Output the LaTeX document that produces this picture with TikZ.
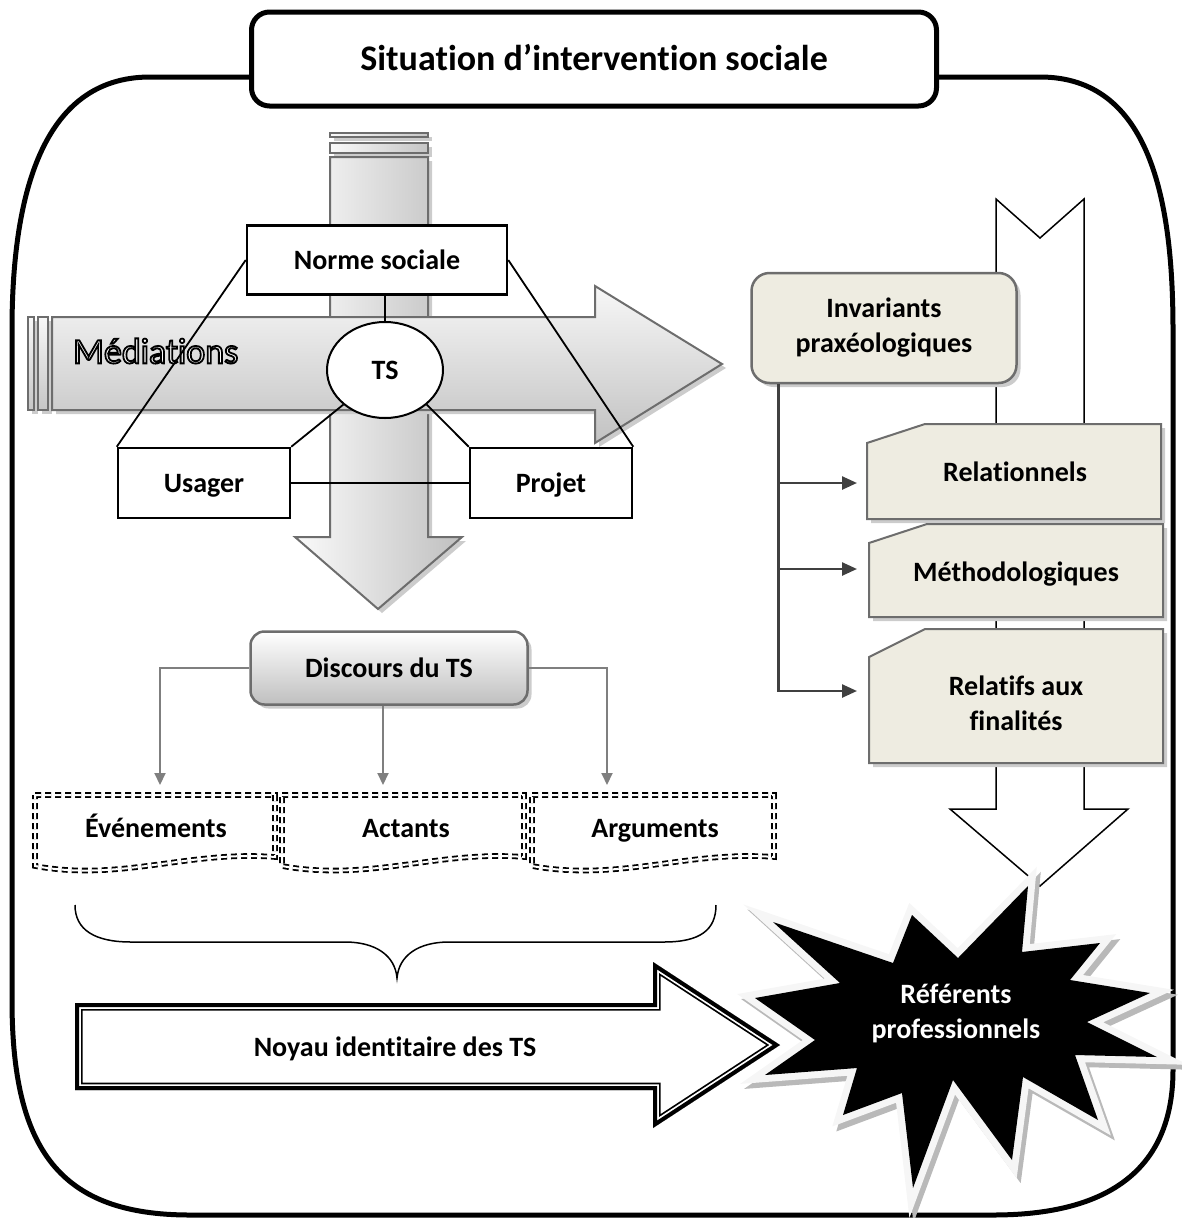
\documentclass[tikz,border=0pt]{standalone}
\usepackage{fontspec}
\setmainfont{Carlito}[Ligatures=NoCommon]
\usetikzlibrary{arrows.meta,shapes.geometric,shadows,calc}
\definecolor{beige}{HTML}{EEECE1}
\definecolor{edgegray}{HTML}{6D6D6D}
\definecolor{linkgray}{HTML}{7F7F7F}
\definecolor{darklink}{HTML}{404040}
% hollow lettering: white fill with a thin black stroke
\newcommand{\hollowtext}[1]{\special{pdf:literal direct 2 Tr 1.8 w 0 G}#1\special{pdf:literal direct 0 Tr}}

\begin{document}
\begin{tikzpicture}[x=1pt,y=-1pt,
  lbl/.style={font=\bfseries\fontsize{28}{35}\selectfont, align=center, inner sep=0pt},
  one/.style={text height=22pt, text depth=4pt},
  plainbox/.style={lbl, one, draw=black, line width=2.5pt, fill=white},
  tie/.style={draw=black, line width=1.8pt},
  softshadow/.style={drop shadow={shadow xshift=4pt, shadow yshift=-4pt, fill=gray!40, opacity=1}},
  garrow/.style={draw=edgegray, line width=2pt, softshadow},
  link/.style={draw=linkgray, line width=2pt, -{Triangle[length=12pt,width=11pt]}},
  branch/.style={draw=darklink, line width=2.5pt, -{Triangle[length=15pt,width=13pt]}},
  docbox/.style={draw=black, line width=1.8pt, double=white, double distance=2pt, dash pattern=on 6pt off 4pt},
  tabbox/.style={draw=edgegray, line width=2pt, fill=beige, softshadow},
  noyau/.style={insert path={(75,1003) -- (653,1003) -- (653,962) -- (780,1045) -- (653,1128) -- (653,1090) -- (75,1090) -- cycle}},
  starpath/.style={insert path={(1028,886) -- (1022,952) -- (1100,943) -- (1070,980) -- (1150,993) -- (1087,1022) -- (1157,1057) -- (1075,1055) -- (1098,1120) -- (1023,1077) -- (1012,1160) -- (953,1080) -- (913,1188) -- (902,1093) -- (843,1115) -- (857,1068) -- (765,1075) -- (815,1040) -- (755,998) -- (840,983) -- (773,922) -- (893,963) -- (912,915) -- (958,958) -- cycle}}
]
\useasboundingbox (0,0) rectangle (1181,1218);

% outer frame of the situation
\draw[line width=5pt] (300,77) -- (150,77) .. controls (40,77) and (12,200) .. (12,330)
  -- (12,1000) .. controls (12,1150) and (60,1215) .. (190,1215)
  -- (993,1215) .. controls (1120,1215) and (1173,1160) .. (1173,1070)
  -- (1173,330) .. controls (1173,200) and (1150,77) .. (1040,77) -- cycle;

% notched vertical arrow behind the invariants
\draw[line width=1.5pt, fill=white] (996,199) -- (1040,238) -- (1084,199) -- (1084,809)
  -- (1128,809) -- (1040,886) -- (950,809) -- (996,809) -- cycle;

% vertical grey arrow
\shadedraw[garrow, line width=1.6pt, left color=gray!4, right color=gray!45] (330,133) rectangle (428,137);
\shadedraw[garrow, left color=gray!4, right color=gray!45] (330,143) rectangle (428,153);
\shadedraw[garrow, left color=gray!4, right color=gray!50] (330,157) -- (428,157) -- (428,537)
  -- (462,537) -- (378,609) -- (295,537) -- (330,537) -- cycle;

% horizontal grey arrow
\shadedraw[garrow, top color=gray!6, bottom color=gray!45] (28,317) rectangle (34,410);
\shadedraw[garrow, top color=gray!6, bottom color=gray!45] (38,317) rectangle (48,410);
\shadedraw[garrow, top color=gray!6, bottom color=gray!48] (52,317) -- (595,317) -- (595,286)
  -- (722,364) -- (595,443) -- (595,410) -- (52,410) -- cycle;

% hollow label of the horizontal arrow
\node[font=\fontsize{36}{40}\selectfont, text=white, anchor=west, inner sep=0pt]
  (mediations) at (73,351) {\hollowtext{Médiations}};

% triangle of actors
\node[plainbox, minimum width=260pt, minimum height=69pt] (norme) at (377,260) {Norme sociale};
\node[plainbox, ellipse, line width=2pt, minimum width=116pt, minimum height=96pt] (ts) at (385,370) {TS};
\node[plainbox, minimum width=172pt, minimum height=70pt] (usager) at (204,483) {Usager};
\node[plainbox, minimum width=162pt, minimum height=70pt] (projet) at (551,483) {Projet};

\draw[tie] (norme.south -| ts.north) -- (ts.north);
\draw[tie] (norme.west) -- (usager.north west);
\draw[tie] (norme.east) -- (projet.north east);
\draw[tie] (ts.south west) -- (usager.north east);
\draw[tie] (ts.south east) -- (projet.north west);
\draw[tie] (usager.east) -- (projet.west);

% discourse and its three components
\node[lbl, one, draw=edgegray, line width=2.5pt, rounded corners=14pt, top color=white, bottom color=gray!50,
  minimum width=277pt, minimum height=73pt, softshadow] (disc) at (389,668) {Discours du TS};

\draw[docbox] (35,795) -- (275,795) -- (275,857) .. controls (190,850) and (120,882) .. (35,866) -- cycle;
\draw[docbox] (282,795) -- (524,795) -- (524,857) .. controls (439,850) and (369,882) .. (282,866) -- cycle;
\draw[docbox] (532,795) -- (774,795) -- (774,857) .. controls (689,850) and (619,882) .. (532,866) -- cycle;
\node[lbl, one] (ev) at (156,828) {Événements};
\node[lbl, one] (ac) at (406,828) {Actants};
\node[lbl, one] (ar) at (655,828) {Arguments};

\coordinate (evin) at (160,785);
\coordinate (acin) at (383,785);
\coordinate (arin) at (607,785);
\draw[link] (disc.west) -| (evin);
\draw[link] (disc.south -| acin) -- (acin);
\draw[link] (disc.east) -| (arin);

% brace gathering the components
\draw[line width=1.5pt] (75,905) .. controls (75,930) and (95,942) .. (131,942) -- (345,942)
  .. controls (375,942) and (395,955) .. (397,978) .. controls (399,955) and (419,942) .. (449,942)
  -- (664,942) .. controls (700,942) and (716,930) .. (716,905);

% identity core arrow with a double outline
\fill[white, noyau];
\begin{scope}
  \clip[noyau];
  \draw[line width=15pt, noyau];
  \draw[white, line width=11.5pt, noyau];
  \draw[line width=8pt, noyau];
\end{scope}
\node[lbl, one] (noyautxt) at (395,1047) {Noyau identitaire des TS};

% praxeological invariants
\node[lbl, draw=edgegray, line width=2.5pt, rounded corners=18pt, fill=beige,
  minimum width=265pt, minimum height=110pt, softshadow] (inv) at (884,328) {Invariants\\praxéologiques};

\draw[tabbox] (867,443) -- (925,424) -- (1161,424) -- (1161,519) -- (867,519) -- cycle;
\draw[tabbox] (869,543) -- (927,524) -- (1163,524) -- (1163,617) -- (869,617) -- cycle;
\draw[tabbox] (869,657) -- (925,629) -- (1163,629) -- (1163,763) -- (869,763) -- cycle;
\node[lbl, one] (rel) at (1015,472) {Relationnels};
\node[lbl, one] (met) at (1016,572) {Méthodologiques};
\node[lbl] (fin) at (1016,703) {Relatifs aux\\finalités};

\coordinate (relin) at (857,483);
\coordinate (metin) at (857,569);
\coordinate (finin) at (857,691);
\draw[branch] ($(inv.south west)+(28,0)$) |- (relin);
\draw[branch] ($(inv.south west)+(28,0)$) |- (metin);
\draw[branch] ($(inv.south west)+(28,0)$) |- (finin);

% professional references burst
\draw[gray!55, line width=14pt, shift={(4,5)}, starpath];
\draw[gray!7, line width=14pt, starpath];
\fill[black, starpath];
\node[lbl, text=white] (refs) at (956,1013) {Référents\\professionnels};

% title
\node[lbl, one, font=\bfseries\fontsize{36}{42}\selectfont, text height=28pt, text depth=5pt, draw=black, line width=5pt, rounded corners=18pt,
  fill=white, minimum width=685pt, minimum height=94pt] (title) at (594,59) {Situation d’intervention sociale};
\end{tikzpicture}
\end{document}
